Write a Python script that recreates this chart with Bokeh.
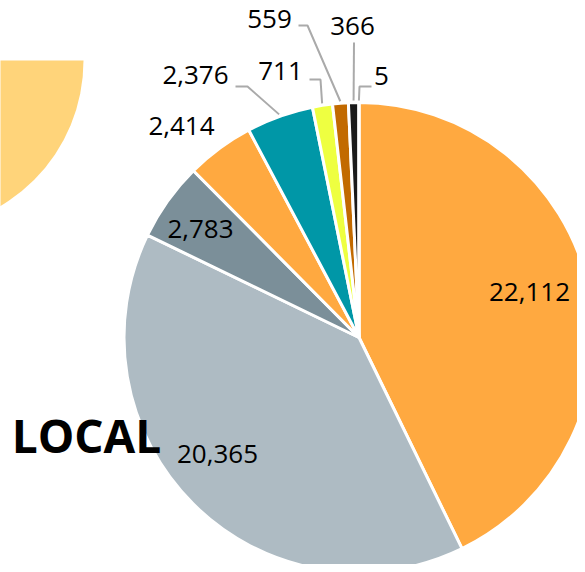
import math
from bokeh.plotting import figure
from bokeh.models import Range1d, ColumnDataSource
from bokeh.core.properties import value
from bokeh.embed import file_html
from bokeh.resources import INLINE

# ---------------- data ----------------
categories = ["s1", "s2", "s3", "s4", "s5", "s6", "s7", "s8", "s9"]
values = [22112, 20365, 2783, 2414, 2376, 711, 559, 366, 5]
group_label = "LOCAL"

# ---------------- style / layout ----------------
colors = ["#FFA940", "#AEBBC3", "#7B8F99", "#FFA940", "#0097A7",
          "#EEFF41", "#C26A00", "#1A1A1A", "#90A4AE"]
FW, FH = 577, 564        # figure size (fits the 585x572 window with 8px margin)
CX, CY, R = 358.5, 337, 235   # pie centre / radius (pixel space)
# label anchors (pixel space)
label_pos = [(529, 291), (217, 453), (200, 228), (181, 125), (195, 74),
             (280, 70), (269, 18), (352, 25), (381, 75)]
# leader-line elbow and end points (pixel space); None = no leader
leaders = [None, None, None, None,
           ((247, 86), (235, 86)),
           ((320, 79), (309, 79)),
           ((307, 25), (298, 25)),
           ((353.5, 42), (353.5, 42)),
           ((359, 86), (371, 86))]
FONT = "Open Sans"


def dy(y):
    return FH - y


p = figure(width=FW, height=FH, x_range=Range1d(0, FW), y_range=Range1d(0, FH),
           toolbar_location=None, output_backend="svg", min_border=0)
p.axis.visible = False
p.grid.visible = False
p.outline_line_color = None
p.min_border_left = p.min_border_right = p.min_border_top = p.min_border_bottom = 0

# partial neighbouring pie (light yellow)
p.wedge(x=-86, y=dy(60), radius=169, start_angle=-math.pi / 2, end_angle=0,
        color="#FFD47A", line_color=None)

total = float(sum(values))
starts, ends, mids = [], [], []
c = 0.0
for v in values:
    a0 = math.pi / 2 - 2 * math.pi * c / total
    c += v
    a1 = math.pi / 2 - 2 * math.pi * c / total
    starts.append(a0)
    ends.append(a1)
    mids.append((a0 + a1) / 2)

src = ColumnDataSource(dict(cat=categories, val=values, start=starts, end=ends, color=colors))
p.wedge(x=CX, y=dy(CY), radius=R, start_angle="start", end_angle="end",
        direction="clock", fill_color="color", line_color="white", line_width=3,
        source=src)

# leader lines
xs, ys = [], []
for m, ld in zip(mids, leaders):
    if ld is None:
        continue
    sx = CX + (R + 2) * math.cos(m)
    sy = dy(CY) + (R + 2) * math.sin(m)
    (ex, ey), (tx, ty) = ld
    xs.append([sx, ex, tx])
    ys.append([sy, dy(ey), dy(ty)])
p.multi_line(xs, ys, line_color="#AAAAAA", line_width=2)

# value labels
lsrc = ColumnDataSource(dict(x=[q[0] for q in label_pos], y=[dy(q[1]) for q in label_pos],
                             t=[f"{v:,}" for v in values]))
p.text(x="x", y="y", text="t", source=lsrc, text_align="center", text_baseline="middle",
       text_font=value(FONT), text_font_size="26px", text_color="#000000")

p.text(x=[86], y=[dy(434)], text=[group_label], text_align="center", text_baseline="middle",
       text_font=value(FONT), text_font_style="bold", text_font_size="46px",
       text_color="#000000")

open("out.html", "w").write(file_html(p, INLINE))
